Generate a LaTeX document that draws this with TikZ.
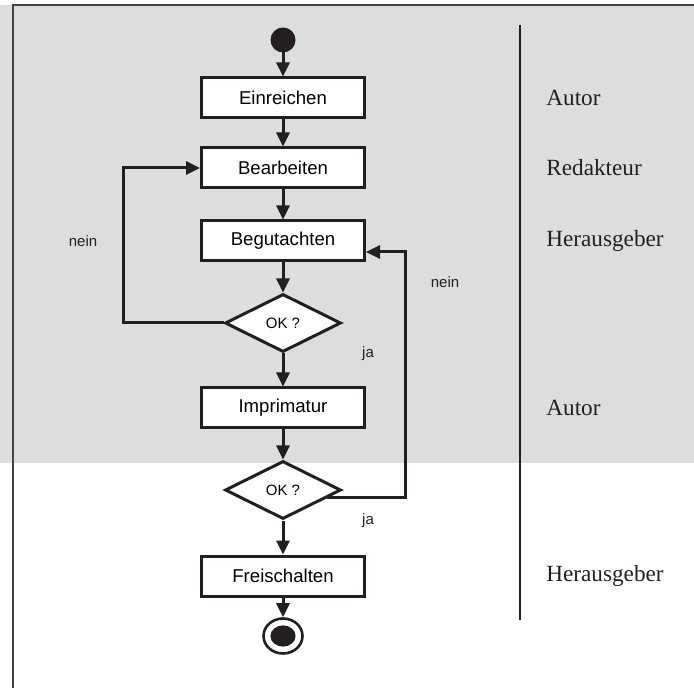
\documentclass[tikz,border=0pt]{standalone}
\usepackage{fontspec}
\setmainfont{Liberation Serif}
\setsansfont{Liberation Sans}
\usetikzlibrary{shapes.geometric,arrows.meta}
\definecolor{bggray}{HTML}{DCDDDF}
\definecolor{ink}{HTML}{231F20}
\tikzset{
  dot/.style = {circle, fill=ink, minimum size=#1,
                inner sep=0pt, outer sep=0pt},
  dot/.default = 12.5pt,
  box/.style = {rectangle, draw=ink, fill=white, line width=1.5pt,
                minimum width=81.5pt, minimum height=20pt, inner sep=0pt,
                font=\sffamily\fontsize{9.3}{11}\selectfont},
  check/.style = {diamond, draw=ink, fill=white, line width=1.5pt,
                minimum width=58pt, minimum height=29pt, inner sep=0pt,
                font=\sffamily\fontsize{7.5}{9}\selectfont},
  enddot/.style = {ellipse, draw=ink, fill=white, line width=1.3pt,
                minimum width=19.5pt, minimum height=17.5pt, inner sep=0pt,
                path picture={\fill[ink] (path picture bounding box.center)
                  ellipse (6.3pt and 5.3pt);}},
  flow/.style = {draw=ink, line width=1.5pt,
                -{Triangle[length=7pt,width=6.5pt]}},
  note/.style = {font=\sffamily\fontsize{7.5}{9}\selectfont, text=ink},
  role/.style = {anchor=west, inner sep=0pt,
                font=\fontsize{11.6}{14}\selectfont, text=ink}
}

\begin{document}
\begin{tikzpicture}[x=0.5pt, y=-0.5pt]
	\def \cx{283} % centre line of the flow
	\def \rx{546} % left edge of the roles

	\useasboundingbox (0,0) rectangle (694,688);

	% Background and frame
	\fill[bggray] (0,5) rectangle (694,463);
	\draw[ink!85, line width=1pt] (13,688) -- (13,5) -- (694,5);
	\draw[ink, line width=0.8pt] (520,25) -- (520,620);

	% Steps
	\node[dot]    (start) at (\cx,40)  {};
	\node[box]    (einr)  at (\cx,98)  {Einreichen};
	\node[box]    (bearb) at (\cx,168) {Bearbeiten};
	\node[box]    (begut) at (\cx,241) {Begutachten};
	\node[check]  (ok1)   at (\cx,323) {OK ?};
	\node[box]    (impr)  at (\cx,408) {Imprimatur};
	\node[check]  (ok2)   at (\cx,490) {OK ?};
	\node[box]    (frei)  at (\cx,576) {Freischalten};
	\node[enddot] (stop)  at (\cx,636) {};

	% Flow
	\draw[flow] (start) -- (einr);
	\draw[flow] (einr)  -- (bearb);
	\draw[flow] (bearb) -- (begut);
	\draw[flow] (begut) -- (ok1);
	\draw[flow] (ok1)   -- (impr);
	\draw[flow] (impr)  -- (ok2);
	\draw[flow] (ok2)   -- (frei);
	\draw[flow] (frei)  -- (stop);

	% Loops back
	\draw[flow] (ok1.west) -- ++(-100,0) |- (bearb.west);
	\draw[flow] (ok2.-10) -- ++(78,0) |- ([yshift=-5.5pt]begut.east);

	% Answers
	\node[note] (nein1) at (83,241)  {nein};
	\node[note] (nein2) at (445,282) {nein};
	\node[note] (ja1)   at (368,354) {ja};
	\node[note] (ja2)   at (368,521) {ja};

	% Roles
	\node[role] (r1) at (\rx,98)  {Autor};
	\node[role] (r2) at (\rx,168) {Redakteur};
	\node[role] (r3) at (\rx,241) {Herausgeber};
	\node[role] (r4) at (\rx,408) {Autor};
	\node[role] (r5) at (\rx,576) {Herausgeber};

\end{tikzpicture}
\end{document}
